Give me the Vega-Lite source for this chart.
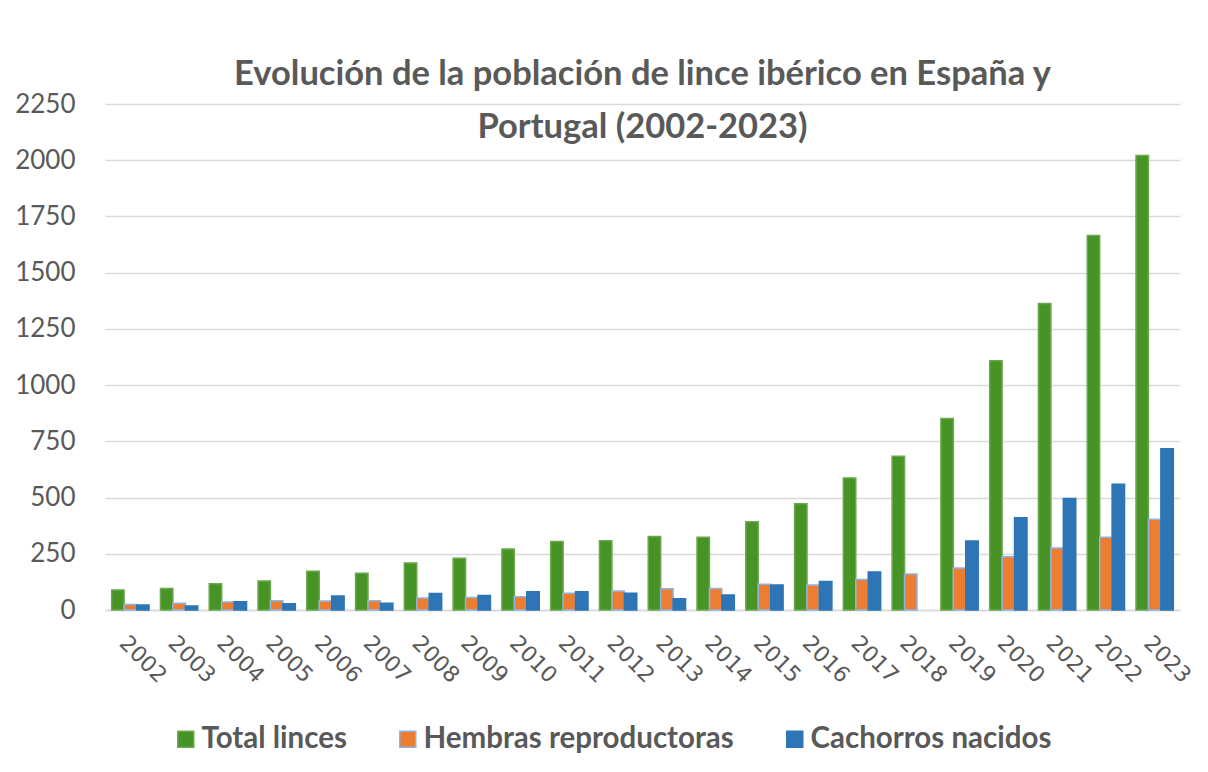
{
  "$schema": "https://vega.github.io/schema/vega-lite/v6.json",
  "width": 1075,
  "height": 506,
  "autosize": {"type": "none"},
  "padding": {"left": 105, "top": 104, "right": 28, "bottom": 162},
  "background": "white",
  "title": {
    "text": ["Evolución de la población de lince ibérico en España y", "Portugal (2002-2023)"],
    "font": "Lato",
    "fontSize": 34.5,
    "fontWeight": "bold",
    "color": "#595959",
    "lineHeight": 53,
    "offset": -54,
    "anchor": "middle"
  },
  "datasets": {
    "lince": [
      {"year": "2002", "serie": "Total linces", "value": 89},
      {"year": "2002", "serie": "Hembras reproductoras", "value": 25},
      {"year": "2002", "serie": "Cachorros nacidos", "value": 22},
      {"year": "2003", "serie": "Total linces", "value": 96},
      {"year": "2003", "serie": "Hembras reproductoras", "value": 30},
      {"year": "2003", "serie": "Cachorros nacidos", "value": 18},
      {"year": "2004", "serie": "Total linces", "value": 117},
      {"year": "2004", "serie": "Hembras reproductoras", "value": 36},
      {"year": "2004", "serie": "Cachorros nacidos", "value": 37},
      {"year": "2005", "serie": "Total linces", "value": 129},
      {"year": "2005", "serie": "Hembras reproductoras", "value": 41},
      {"year": "2005", "serie": "Cachorros nacidos", "value": 28},
      {"year": "2006", "serie": "Total linces", "value": 172},
      {"year": "2006", "serie": "Hembras reproductoras", "value": 40},
      {"year": "2006", "serie": "Cachorros nacidos", "value": 62},
      {"year": "2007", "serie": "Total linces", "value": 163},
      {"year": "2007", "serie": "Hembras reproductoras", "value": 41},
      {"year": "2007", "serie": "Cachorros nacidos", "value": 30},
      {"year": "2008", "serie": "Total linces", "value": 209},
      {"year": "2008", "serie": "Hembras reproductoras", "value": 53},
      {"year": "2008", "serie": "Cachorros nacidos", "value": 73},
      {"year": "2009", "serie": "Total linces", "value": 230},
      {"year": "2009", "serie": "Hembras reproductoras", "value": 56},
      {"year": "2009", "serie": "Cachorros nacidos", "value": 64},
      {"year": "2010", "serie": "Total linces", "value": 271},
      {"year": "2010", "serie": "Hembras reproductoras", "value": 59},
      {"year": "2010", "serie": "Cachorros nacidos", "value": 81},
      {"year": "2011", "serie": "Total linces", "value": 305},
      {"year": "2011", "serie": "Hembras reproductoras", "value": 74},
      {"year": "2011", "serie": "Cachorros nacidos", "value": 81},
      {"year": "2012", "serie": "Total linces", "value": 308},
      {"year": "2012", "serie": "Hembras reproductoras", "value": 84},
      {"year": "2012", "serie": "Cachorros nacidos", "value": 74},
      {"year": "2013", "serie": "Total linces", "value": 327},
      {"year": "2013", "serie": "Hembras reproductoras", "value": 95},
      {"year": "2013", "serie": "Cachorros nacidos", "value": 50},
      {"year": "2014", "serie": "Total linces", "value": 323},
      {"year": "2014", "serie": "Hembras reproductoras", "value": 96},
      {"year": "2014", "serie": "Cachorros nacidos", "value": 67},
      {"year": "2015", "serie": "Total linces", "value": 392},
      {"year": "2015", "serie": "Hembras reproductoras", "value": 114},
      {"year": "2015", "serie": "Cachorros nacidos", "value": 111},
      {"year": "2016", "serie": "Total linces", "value": 472},
      {"year": "2016", "serie": "Hembras reproductoras", "value": 111},
      {"year": "2016", "serie": "Cachorros nacidos", "value": 127},
      {"year": "2017", "serie": "Total linces", "value": 587},
      {"year": "2017", "serie": "Hembras reproductoras", "value": 136},
      {"year": "2017", "serie": "Cachorros nacidos", "value": 169},
      {"year": "2018", "serie": "Total linces", "value": 684},
      {"year": "2018", "serie": "Hembras reproductoras", "value": 160},
      {"year": "2019", "serie": "Total linces", "value": 852},
      {"year": "2019", "serie": "Hembras reproductoras", "value": 187},
      {"year": "2019", "serie": "Cachorros nacidos", "value": 307},
      {"year": "2020", "serie": "Total linces", "value": 1108},
      {"year": "2020", "serie": "Hembras reproductoras", "value": 237},
      {"year": "2020", "serie": "Cachorros nacidos", "value": 410},
      {"year": "2021", "serie": "Total linces", "value": 1363},
      {"year": "2021", "serie": "Hembras reproductoras", "value": 276},
      {"year": "2021", "serie": "Cachorros nacidos", "value": 496},
      {"year": "2022", "serie": "Total linces", "value": 1665},
      {"year": "2022", "serie": "Hembras reproductoras", "value": 323},
      {"year": "2022", "serie": "Cachorros nacidos", "value": 559},
      {"year": "2023", "serie": "Total linces", "value": 2021},
      {"year": "2023", "serie": "Hembras reproductoras", "value": 404},
      {"year": "2023", "serie": "Cachorros nacidos", "value": 717}
    ]
  },
  "data": {"name": "lince"},
  "mark": {"type": "bar", "strokeWidth": 1.5},
  "encoding": {
    "x": {
      "field": "year",
      "type": "nominal",
      "sort": null,
      "scale": {"paddingInner": 0.235, "paddingOuter": 0.137},
      "axis": {
        "title": null,
        "labelAngle": 45,
        "labelFont": "DejaVu Sans",
        "labelFontSize": 22,
        "labelColor": "#595959",
        "labelAlign": "left",
        "labelBaseline": "top",
        "labelPadding": 22,
        "ticks": false,
        "domainColor": "#d9d9d9",
        "domainWidth": 1.5,
        "grid": false
      }
    },
    "xOffset": {
      "field": "serie",
      "type": "nominal",
      "sort": ["Total linces", "Hembras reproductoras", "Cachorros nacidos"],
      "scale": {"domain": ["Total linces", "Hembras reproductoras", "Cachorros nacidos"], "paddingInner": 0, "paddingOuter": 0}
    },
    "y": {
      "field": "value",
      "type": "quantitative",
      "scale": {"domain": [0, 2250], "nice": false},
      "axis": {
        "title": null,
        "values": [0, 250, 500, 750, 1000, 1250, 1500, 1750, 2000, 2250],
        "format": "d",
        "labelFont": "Lato",
        "labelFontSize": 26,
        "labelColor": "#595959",
        "labelPadding": 30,
        "ticks": false,
        "domain": false,
        "gridColor": "#d9d9d9",
        "gridWidth": 1.5
      }
    },
    "color": {
      "field": "serie",
      "type": "nominal",
      "sort": ["Total linces", "Hembras reproductoras", "Cachorros nacidos"],
      "scale": {
        "domain": ["Total linces", "Hembras reproductoras", "Cachorros nacidos"],
        "range": ["#479325", "#ED7D31", "#2E75B6"]
      },
      "legend": {
        "title": null,
        "orient": "none",
        "direction": "horizontal",
        "legendX": 66,
        "legendY": 620,
        "symbolType": "square",
        "symbolSize": 256,
        "symbolStrokeWidth": 1.5,
        "labelFont": "Lato",
        "labelFontSize": 29.5,
        "labelFontWeight": "bold",
        "labelColor": "#595959",
        "labelOffset": 1,
        "columnPadding": 46,
        "labelLimit": 500
      }
    },
    "stroke": {
      "field": "serie",
      "type": "nominal",
      "sort": ["Total linces", "Hembras reproductoras", "Cachorros nacidos"],
      "scale": {
        "domain": ["Total linces", "Hembras reproductoras", "Cachorros nacidos"],
        "range": ["#6aa84f", "#8db4e2", "#2E75B6"]
      },
      "legend": null
    }
  },
  "config": {"view": {"stroke": null}}
}
